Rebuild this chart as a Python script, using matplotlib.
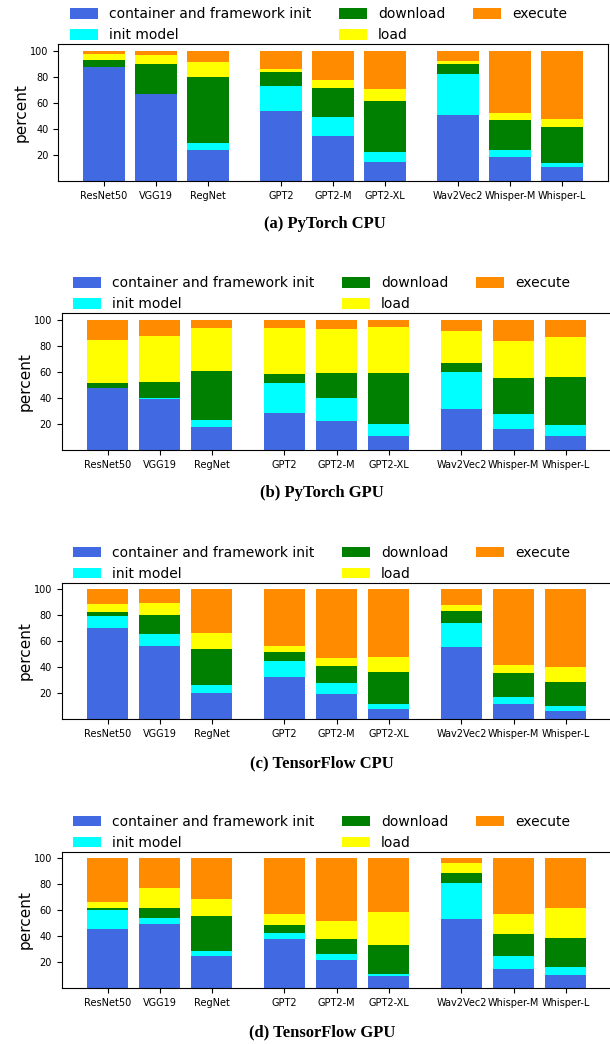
import matplotlib
matplotlib.use("Agg")
import matplotlib.pyplot as plt
import numpy as np

# ---------------- data ----------------
models = ["ResNet50", "VGG19", "RegNet", "GPT2", "GPT2-M", "GPT2-XL",
          "Wav2Vec2", "Whisper-M", "Whisper-L"]
group_sizes = [3, 3, 3]
stages = ["container and framework init", "init model", "download", "load", "execute"]
colors = ["royalblue", "cyan", "green", "yellow", "darkorange"]
captions = ["(a) PyTorch CPU", "(b) PyTorch GPU", "(c) TensorFlow CPU", "(d) TensorFlow GPU"]
yticks = [20, 40, 60, 80, 100]

# (a) PyTorch CPU  (segment percentages)
pt_cpu_container = [87.2, 66.9, 23.8, 53.8, 34.6, 14.6, 50.8, 18.5, 10.8]
pt_cpu_init      = [0.0, 0.0, 5.4, 19.3, 14.6, 7.7, 31.5, 5.3, 3.0]
pt_cpu_download  = [5.9, 23.1, 50.8, 10.7, 22.3, 39.2, 7.7, 23.1, 27.7]
pt_cpu_load      = [4.6, 6.9, 11.5, 2.4, 6.2, 9.3, 2.3, 5.4, 6.2]
pt_cpu_execute   = [2.3, 3.1, 8.5, 13.8, 22.3, 29.2, 7.7, 47.7, 52.3]

# (b) PyTorch GPU
pt_gpu_container = [47.7, 39.2, 17.7, 28.5, 22.3, 10.8, 31.5, 16.2, 10.8]
pt_gpu_init      = [0.0, 0.8, 5.4, 23.0, 17.7, 9.2, 28.5, 11.5, 8.4]
pt_gpu_download  = [3.8, 12.3, 37.7, 7.0, 19.2, 39.2, 6.9, 27.7, 37.0]
pt_gpu_load      = [33.1, 35.4, 33.0, 35.3, 33.9, 35.4, 24.6, 28.4, 30.7]
pt_gpu_execute   = [15.4, 12.3, 6.2, 6.2, 6.9, 5.4, 8.5, 16.2, 13.1]

# (c) TensorFlow CPU
tf_cpu_container = [70.3, 56.4, 20.3, 32.6, 19.5, 7.9, 55.6, 11.8, 6.4]
tf_cpu_init      = [9.2, 9.2, 6.1, 12.3, 8.4, 3.9, 18.5, 5.4, 3.9]
tf_cpu_download  = [3.1, 14.7, 27.7, 6.9, 13.1, 24.6, 9.2, 18.4, 18.4]
tf_cpu_load      = [6.1, 9.2, 12.3, 4.6, 6.2, 11.5, 4.6, 6.2, 11.6]
tf_cpu_execute   = [11.3, 10.5, 33.6, 43.6, 52.8, 52.1, 12.1, 58.2, 59.7]

# (d) TensorFlow GPU
tf_gpu_container = [45.6, 49.5, 24.9, 37.9, 21.8, 9.7, 53.3, 14.9, 10.3]
tf_gpu_init      = [14.7, 4.6, 3.8, 4.7, 4.6, 1.6, 27.7, 10.0, 6.1]
tf_gpu_download  = [1.5, 7.7, 26.9, 6.1, 11.5, 22.0, 7.7, 16.9, 22.3]
tf_gpu_load      = [4.6, 15.4, 13.1, 8.5, 13.9, 25.4, 7.7, 15.4, 23.1]
tf_gpu_execute   = [33.6, 22.8, 31.3, 42.8, 48.2, 41.3, 3.6, 42.8, 38.2]

panels = [
    [pt_cpu_container, pt_cpu_init, pt_cpu_download, pt_cpu_load, pt_cpu_execute],
    [pt_gpu_container, pt_gpu_init, pt_gpu_download, pt_gpu_load, pt_gpu_execute],
    [tf_cpu_container, tf_cpu_init, tf_cpu_download, tf_cpu_load, tf_cpu_execute],
    [tf_gpu_container, tf_gpu_init, tf_gpu_download, tf_gpu_load, tf_gpu_execute],
]

# ---------------- layout ----------------
W, H = 610, 1044
fig = plt.figure(figsize=(W / 100, H / 100), dpi=100)

group_gap = 0.4
xpos = []
start = 0.0
for g in group_sizes:
    xpos.extend(start + np.arange(g))
    start = xpos[-1] + 1 + group_gap
xpos = np.array(xpos)

# pixel geometry per panel: (axes_left, axes_top, legend_cx, caption_cx)
ax_w, ax_h = 549.7, 136.7
geom = [
    (58.3, 44.3, 318.5, 325.0),
    (61.7, 313.3, 321.5, 322.0),
    (61.7, 582.7, 321.5, 322.0),
    (61.7, 851.7, 321.5, 322.0),
]

for p, (series, (left, top, lcx, ccx)) in enumerate(zip(panels, geom)):
    ax = fig.add_axes([left / W, 1 - (top + ax_h) / H, ax_w / W, ax_h / H])
    bottom = np.zeros(len(models))
    handles = []
    for vals, col, lab in zip(series, colors, stages):
        vals = np.array(vals)
        b = ax.bar(xpos, vals, 0.8, bottom=bottom, color=col, label=lab)
        handles.append(b)
        bottom = bottom + vals
    ax.set_xticks(xpos)
    ax.set_xticklabels(models, fontsize=7)
    ax.set_yticks(yticks)
    ax.tick_params(axis="y", labelsize=7)
    ax.set_ylabel("percent", fontsize=11, labelpad=1)
    fig.legend(handles, stages, loc="center", ncol=3, frameon=False, fontsize=10,
               handleheight=0.75, bbox_to_anchor=(lcx / W, 1 - (top - 19.5) / H))
    fig.text(ccx / W, 1 - (top + 180.2) / H, captions[p], ha="center", va="center",
             fontsize=12, fontweight="bold", family=["Liberation Serif", "DejaVu Serif"])

fig.savefig("out.png", dpi=100)
